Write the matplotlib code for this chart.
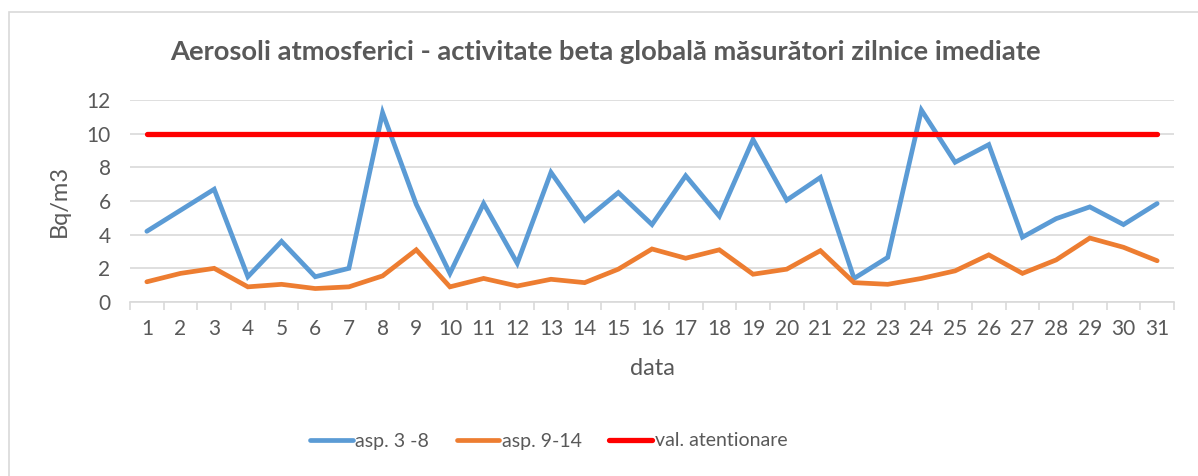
import matplotlib.pyplot as plt
from matplotlib.patches import Rectangle

days = list(range(1, 32))
asp_3_8 = [4.2, 5.45, 6.7, 1.5, 3.6, 1.5, 2.0, 11.25, 5.8, 1.7, 5.85,
           2.3, 7.7, 4.85, 6.5, 4.6, 7.5, 5.1, 9.65, 6.05, 7.4,
           1.4, 2.65, 11.4, 8.3, 9.35, 3.85, 4.95, 5.65, 4.6, 5.85]
asp_9_14 = [1.2, 1.7, 2.0, 0.9, 1.05, 0.8, 0.9, 1.55, 3.1, 0.9, 1.4,
            0.95, 1.35, 1.15, 1.95, 3.15, 2.6, 3.1, 1.65, 1.95, 3.05,
            1.15, 1.05, 1.4, 1.85, 2.8, 1.7, 2.5, 3.8, 3.25, 2.45]
val_atentionare = [10] * 31

text_color = '#595959'
plt.rcParams['font.family'] = ['Lato', 'DejaVu Sans']

fig = plt.figure(figsize=(11.98, 4.76), dpi=100)
ax = fig.add_axes([130 / 1198, 1 - 302 / 476, (1174 - 130) / 1198, 202 / 476])

# chart frame (only left and top edges fall inside the image)
fig.patches.append(Rectangle((9 / 1198, -0.1), 1.2, 1.1 - 12 / 476,
                             transform=fig.transFigure, fill=False,
                             edgecolor='#d9d9d9', linewidth=1.2))

ax.plot(days, asp_3_8, color='#5b9bd5', linewidth=3.4, solid_capstyle='round',
        solid_joinstyle='miter', label='asp. 3 -8')
ax.plot(days, asp_9_14, color='#ed7d31', linewidth=3.4, solid_capstyle='round',
        solid_joinstyle='miter', label='asp. 9-14')
ax.plot(days, val_atentionare, color='#ff0000', linewidth=3.8,
        solid_capstyle='round', label='val. atentionare')

ax.set_xlim(0.5, 31.5)
ax.set_ylim(0, 12)
ax.set_yticks(range(0, 13, 2))
ax.set_xticks(days)
ax.set_xticks([d + 0.5 for d in range(0, 32)], minor=True)
ax.tick_params(axis='x', which='major', length=0, pad=12, labelsize=15, labelcolor=text_color)
ax.tick_params(axis='x', which='minor', length=6, color='#d9d9d9', width=1.2)
ax.tick_params(axis='y', length=0, pad=14, labelsize=15, labelcolor=text_color)
ax.grid(axis='y', color='#d9d9d9', linewidth=1.2)
ax.set_axisbelow(True)
for side in ['top', 'right', 'left']:
    ax.spines[side].set_visible(False)
ax.spines['bottom'].set_color('#d9d9d9')
ax.spines['bottom'].set_linewidth(1.2)

ax.set_xlabel('data', fontsize=17, color=text_color, labelpad=14)
ax.set_ylabel('Bq/m3', fontsize=17, color=text_color, labelpad=12)

fig.text(0.505, 1 - 52 / 476, 'Aerosoli atmosferici - activitate beta globală măsurători zilnice imediate',
         ha='center', va='center', fontsize=19.7, fontweight='bold', color=text_color)

fig.legend(loc='center', bbox_to_anchor=(0.458, 1 - 441 / 476), ncol=3, frameon=False,
           fontsize=14, labelcolor=text_color, handlelength=2.2, handletextpad=0.15,
           columnspacing=1.4)

plt.savefig('out.png', dpi=100)
